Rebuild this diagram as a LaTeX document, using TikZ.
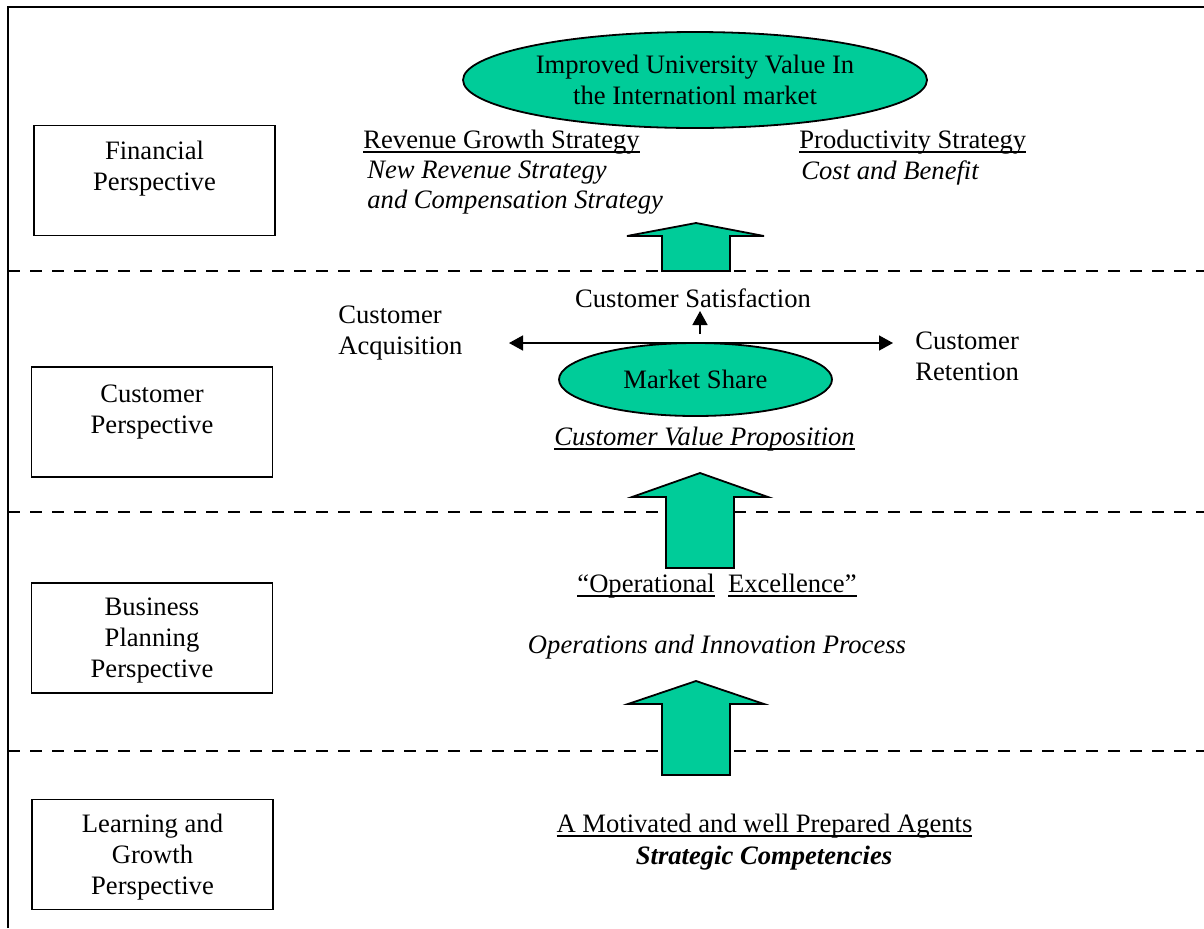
\documentclass[tikz,border=0pt]{standalone}
\usepackage{fontspec}
\setmainfont{Liberation Serif}
\usetikzlibrary{arrows.meta,shapes.geometric}
\definecolor{bscgreen}{RGB}{0,204,153}
% underline with a fixed offset below the baseline
\newcommand\uln[1]{\setbox0\hbox{#1}\rlap{\rule[-2.2pt]{\wd0}{0.7pt}}\box0}
\tikzset{
  pbox/.style={draw, line width=0.7pt, minimum width=120.5pt, minimum height=55pt, inner sep=0pt},
  ptxt/.style={align=center, inner sep=0pt},
  ltxt/.style={align=left, inner sep=0pt, anchor=west},
  sep/.style={line width=0.9pt, dash pattern=on 6pt off 5pt},
  goal/.style={ellipse, draw, fill=bscgreen, line width=0.9pt, inner sep=0pt, align=center},
  blk/.style={draw, fill=bscgreen, line width=0.9pt, line join=miter},
  link/.style={line width=0.75pt, -{Triangle[length=7pt,width=7.5pt]}}
}
\begin{document}
\begin{tikzpicture}[x=0.5pt, y=-0.5pt, font=\fontsize{13.3pt}{15.5pt}\selectfont]
\useasboundingbox (0,0) rectangle (1204,928);

% outer frame and perspective separators
\draw[line width=1pt] (8,928) -- (8,7) -- (1204,7);
\draw[sep] (8,271) -- (1204,271);
\draw[sep] (8,512) -- (1204,512);
\draw[sep] (8,751) -- (1204,751);

% perspective boxes
\node[pbox] (finBox) at (154.5,180.5) {};
\node[ptxt] (finTxt) at (154.5,169) {Financial\\Perspective};
\node[pbox] (cusBox) at (152,422) {};
\node[ptxt] (cusTxt) at (152,412) {Customer\\Perspective};
\node[pbox] (busBox) at (152,638) {};
\node[ptxt] (busTxt) at (152,641) {Business\\Planning\\Perspective};
\node[pbox] (lrnBox) at (152.5,854.5) {};
\node[ptxt] (lrnTxt) at (152.5,857) {Learning and\\Growth\\Perspective};

% financial perspective
\node[goal, minimum width=232pt, minimum height=48pt] (goal) at (695,80)
  {Improved University Value In\\the Internationl market};
\node[ltxt] (rev) at (363,142) {\uln{Revenue Growth Strategy}};
\node[ltxt] (revA) at (367,173) {\itshape New Revenue Strategy};
\node[ltxt] (revB) at (367,202) {\itshape and Compensation Strategy};
\node[ltxt] (prod) at (799,142) {\uln{Productivity Strategy}};
\node[ltxt] (prodA) at (801,173) {\itshape Cost and Benefit};

% customer perspective
\node[ptxt] (sat) at (693,298) {Customer Satisfaction};
\node[ltxt] (acq) at (338,333) {Customer\\Acquisition};
\node[ltxt] (ret) at (915,356.5) {Customer\\Retention};
\node[goal, minimum width=136.5pt, minimum height=36.5pt] (share) at (695.5,379.5) {Market Share};
\node[ptxt] (cvp) at (704.5,439) {\uln{\itshape Customer Value Proposition}};

\coordinate (hub) at (700,343);
\coordinate (acqTip) at (509,343);
\coordinate (retTip) at (893,343);
\coordinate (satBase) at (700,334);
\coordinate (satTip) at (700,311);
\draw[link] (hub) -- (acqTip);
\draw[link] (hub) -- (retTip);
\draw[link] (satBase) -- (satTip);

% business planning perspective
\node[ptxt] (opx) at (717,586) {\uln{“Operational}\hspace{0.5em}\uln{Excellence”}};
\node[ptxt] (oip) at (717,647) {\itshape Operations and Innovation Process};

% learning and growth perspective
\node[ptxt] (agents) at (764.5,826) {\uln{A Motivated and well Prepared Agents}};
\node[ptxt] (comp) at (764,858) {\bfseries\itshape Strategic Competencies};

% upward block arrows between perspectives
\draw[blk] (662,271) -- (662,236) -- (627,236) -- (696,223) -- (764,236) -- (730,236) -- (730,271) -- cycle;
\draw[blk] (666,568) -- (666,497) -- (632,497) -- (700,473) -- (768,497) -- (734,497) -- (734,568) -- cycle;
\draw[blk] (662,775) -- (662,704) -- (628,704) -- (696,681) -- (764,704) -- (730,704) -- (730,775) -- cycle;
\end{tikzpicture}
\end{document}
